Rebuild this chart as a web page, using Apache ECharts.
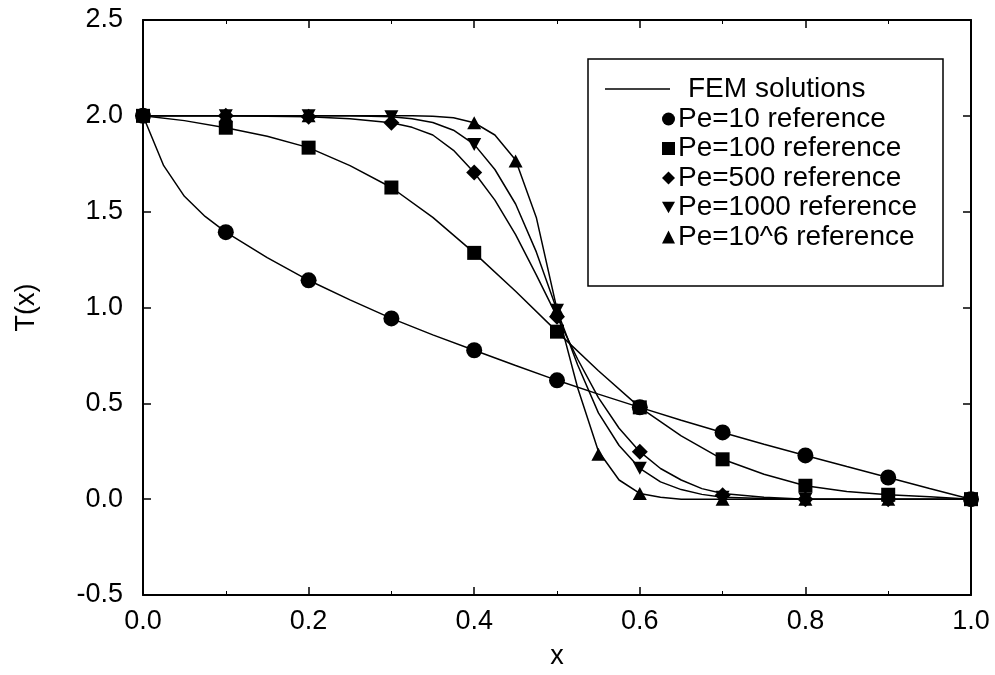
<!DOCTYPE html>
<html>
<head>
<meta charset="utf-8">
<script src="https://cdn.jsdelivr.net/npm/echarts@6/dist/echarts.min.js"></script>
<style>
  html, body { margin: 0; padding: 0; background: #fff; }
  #chart { width: 995px; height: 675px; }
</style>
</head>
<body>
<div id="chart"></div>
<script>
// reference points (markers)
var refX = [0, 0.1, 0.2, 0.3, 0.4, 0.5, 0.6, 0.7, 0.8, 0.9, 1.0];
var pe10Ref = [2.0, 1.393, 1.142, 0.943, 0.777, 0.62, 0.479, 0.348, 0.228, 0.113, 0.0];
var pe100Ref = [2.0, 1.938, 1.834, 1.626, 1.285, 0.874, 0.479, 0.208, 0.07, 0.023, 0.0];
var pe500Ref = [2.0, 2.0, 1.995, 1.964, 1.704, 0.952, 0.248, 0.02, 0.0, 0.0, 0.0];
var pe1000Ref = [2.0, 2.0, 2.0, 1.995, 1.851, 0.986, 0.161, 0.01, 0.0, 0.0, 0.0];
var pe1e6X = [0, 0.1, 0.2, 0.4, 0.45, 0.5, 0.55, 0.6, 0.7, 0.8, 0.9, 1.0];
var pe1e6Ref = [2.0, 2.0, 2.0, 1.964, 1.764, 0.99, 0.234, 0.03, 0.0, 0.0, 0.0, 0.0];

// FEM solution curves
var fem10X = [0, 0.025, 0.05, 0.075, 0.1, 0.15, 0.2, 0.25, 0.3, 0.35, 0.4, 0.45, 0.5, 0.55,
    0.6, 0.65, 0.7, 0.75, 0.8, 0.85, 0.9, 0.95, 1.0];
var fem10Y = [2.0, 1.74, 1.58, 1.475, 1.393, 1.26, 1.142, 1.04, 0.943, 0.857, 0.777, 0.697, 0.62, 0.548,
    0.479, 0.412, 0.348, 0.287, 0.228, 0.17, 0.113, 0.056, 0.0];
var fem100X = [0, 0.05, 0.1, 0.15, 0.2, 0.25, 0.3, 0.35, 0.4, 0.45, 0.5, 0.55,
    0.6, 0.65, 0.7, 0.75, 0.8, 0.85, 0.9, 0.95, 1.0];
var fem100Y = [2.0, 1.975, 1.938, 1.893, 1.834, 1.74, 1.626, 1.47, 1.285, 1.085, 0.874, 0.67,
    0.479, 0.33, 0.208, 0.13, 0.07, 0.04, 0.023, 0.012, 0.0];
var femSharpX = [0, 0.05, 0.1, 0.15, 0.2, 0.25, 0.3, 0.325, 0.35, 0.375, 0.4, 0.425, 0.45, 0.475,
    0.5, 0.525, 0.55, 0.575, 0.6, 0.625, 0.65, 0.675, 0.7, 0.75, 0.8, 0.9, 1.0];
var fem500Y = [2.0, 2.0, 2.0, 1.998, 1.995, 1.985, 1.964, 1.94, 1.90, 1.82, 1.704, 1.56, 1.38, 1.17,
    0.952, 0.73, 0.53, 0.37, 0.248, 0.16, 0.10, 0.055, 0.03, 0.01, 0.0, 0.0, 0.0];
var fem1000Y = [2.0, 2.0, 2.0, 2.0, 2.0, 2.0, 1.995, 1.985, 1.965, 1.925, 1.851, 1.72, 1.54, 1.29,
    0.986, 0.70, 0.45, 0.28, 0.161, 0.09, 0.05, 0.025, 0.01, 0.003, 0.0, 0.0, 0.0];
var fem1e6Y = [2.0, 2.0, 2.0, 2.0, 2.0, 2.0, 2.0, 2.0, 1.998, 1.99, 1.964, 1.90, 1.77, 1.47,
    0.99, 0.58, 0.25, 0.10, 0.03, 0.01, 0.0, 0.0, 0.0, 0.0, 0.0, 0.0, 0.0];

var FONT = 'Liberation Sans';
var downTri = 'path://M0,0 L10,0 L5,9 Z';

function pairs(xs, ys) {
    return xs.map(function (x, i) { return [x, ys[i]]; });
}

function femSeries(xs, ys) {
    return {
        name: 'FEM solutions',
        type: 'line',
        data: pairs(xs, ys),
        symbol: 'none',
        smooth: false,
        lineStyle: {color: '#000', width: 1.5},
        itemStyle: {color: '#000'},
        z: 2
    };
}

function refSeries(name, xs, ys, symbol, size) {
    return {
        name: name,
        type: 'scatter',
        data: pairs(xs, ys),
        symbol: symbol,
        symbolSize: size,
        itemStyle: {color: '#000', opacity: 1},
        z: 3
    };
}

// box-style axis pieces
var axLine = {show: true, onZero: false, lineStyle: {color: '#000', width: 2}};
var axTick = {show: true, inside: true, length: 8, lineStyle: {color: '#000', width: 1.5}};
var xMinor = {show: true, splitNumber: 2, length: 4, lineStyle: {color: '#000', width: 1}};
var labelStyle = {color: '#000', fontSize: 27, fontFamily: FONT};

var chart = echarts.init(document.getElementById('chart'));

chart.setOption({
    animation: false,
    backgroundColor: '#fff',
    grid: {left: 143, right: 24, top: 20, bottom: 77},
    xAxis: [
        {
            type: 'value', min: 0, max: 1, interval: 0.2,
            name: 'x', nameLocation: 'middle', nameGap: 48,
            nameTextStyle: labelStyle,
            axisLine: axLine, axisTick: axTick, minorTick: xMinor,
            splitLine: {show: false},
            axisLabel: {color: '#000', fontSize: 27, fontFamily: FONT, margin: 13,
                formatter: function (v) { return v.toFixed(1); }}
        },
        {
            type: 'value', min: 0, max: 1, interval: 0.2, position: 'top',
            axisLine: axLine, axisTick: axTick, minorTick: xMinor,
            splitLine: {show: false},
            axisLabel: {show: false}
        }
    ],
    yAxis: [
        {
            type: 'value', min: -0.5, max: 2.5, interval: 0.5,
            name: 'T(x)', nameLocation: 'middle', nameGap: 103,
            nameTextStyle: labelStyle,
            axisLine: axLine, axisTick: axTick,
            splitLine: {show: false},
            axisLabel: {color: '#000', fontSize: 27, fontFamily: FONT, margin: 20,
                formatter: function (v) { return v.toFixed(1); }}
        },
        {
            type: 'value', min: -0.5, max: 2.5, interval: 0.5, position: 'right',
            axisLine: axLine, axisTick: axTick,
            splitLine: {show: false},
            axisLabel: {show: false}
        }
    ],
    legend: [
        {
            data: [{name: 'FEM solutions', icon: 'rect'}],
            left: 605, top: 75, padding: 0,
            itemWidth: 65, itemHeight: 1.5,
            textStyle: {color: '#000', fontSize: 28, fontFamily: FONT, padding: [0, 0, 0, 13]}
        },
        {
            data: ['Pe=10 reference', 'Pe=100 reference', 'Pe=500 reference',
                'Pe=1000 reference', 'Pe=10^6 reference'],
            orient: 'vertical',
            left: 662, top: 105, padding: 0,
            itemWidth: 13, itemHeight: 13, itemGap: 1.5,
            textStyle: {color: '#000', fontSize: 28, fontFamily: FONT, padding: [0, 0, 0, -2]}
        }
    ],
    graphic: [{
        type: 'rect',
        shape: {x: 588, y: 59, width: 355, height: 227},
        style: {fill: 'none', stroke: '#000', lineWidth: 1.5},
        z: 10
    }],
    series: [
        femSeries(fem10X, fem10Y),
        femSeries(fem100X, fem100Y),
        femSeries(femSharpX, fem500Y),
        femSeries(femSharpX, fem1000Y),
        femSeries(femSharpX, fem1e6Y),
        refSeries('Pe=10 reference', refX, pe10Ref, 'circle', 16),
        refSeries('Pe=100 reference', refX, pe100Ref, 'rect', 14),
        refSeries('Pe=500 reference', refX, pe500Ref, 'diamond', 16),
        refSeries('Pe=1000 reference', refX, pe1000Ref, downTri, [14, 13]),
        refSeries('Pe=10^6 reference', pe1e6X, pe1e6Ref, 'triangle', [14, 13])
    ]
});
</script>
</body>
</html>
